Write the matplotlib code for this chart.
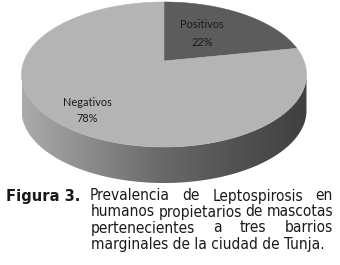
import numpy as np
import matplotlib
matplotlib.use("Agg")
import matplotlib.pyplot as plt
from matplotlib.patches import Polygon
from matplotlib.colors import LinearSegmentedColormap

# ---- data ----
labels = ["Positivos", "Negativos"]
values = [22, 78]
pct_labels = ["22%", "78%"]
caption_bold = "Figura 3."
caption_lines = ["Prevalencia de Leptospirosis en",
                 "humanos propietarios de mascotas",
                 "pertenecientes a tres barrios",
                 "marginales de la ciudad de Tunja."]

W, H = 340, 265
fig = plt.figure(figsize=(W / 100, H / 100), dpi=100)
ax = fig.add_axes([0, 0, 1, 1])
ax.set_xlim(0, W)
ax.set_ylim(H, 0)
ax.axis("off")

# perspective projection of the pie disk (pixel coordinates)
cx, a = 164.0, 140.0
ytop, yc, ybot = 2.0, 61.0, 147.0
B = yc
C = (ybot + ytop - 2 * B) / (ybot - ytop)
A = ytop * (C + 1) - B
depth = 36.0


def proj(theta, dz=0.0):
    u, v = np.cos(theta), np.sin(theta)
    x = cx + a * u / (1 + C * v)
    y = (A * v + B) / (1 + C * v) + dz
    return x, y


total = float(sum(values))
start = np.pi / 2
top_colors = ["#5c5c5c", "#b4b4b4"]
angles = []
cur = start
for val in values:
    nxt = cur - val / total * 2 * np.pi
    angles.append((cur, nxt))
    cur = nxt

# side (visible arc between silhouette points)
th_l = np.pi + np.arcsin(C)
th_r = 2 * np.pi - np.arcsin(C)
ths = np.linspace(th_l, th_r, 200)
xt, yt = proj(ths)
xb, yb = proj(ths, depth)
side_pts = np.column_stack([np.r_[xt, xb[::-1]], np.r_[yt, yb[::-1]]])
side = Polygon(side_pts, closed=True, facecolor="none", edgecolor="none")
ax.add_patch(side)
cmap = LinearSegmentedColormap.from_list(
    "side", [(0, "#ababab"), (0.25, "#8a8a8a"), (0.5, "#686868"),
             (0.8, "#4e4e4e"), (1, "#404040")])
grad = np.linspace(0, 1, 256)[None, :]
im = ax.imshow(grad, cmap=cmap, extent=(xt.min(), xt.max(), yb.max() + 1, yt.min() - 1),
               aspect="auto", zorder=1)
im.set_clip_path(side)
ax.set_xlim(0, W)
ax.set_ylim(H, 0)

# top faces
for (t0, t1), col in zip(angles, top_colors):
    th = np.linspace(t0, t1, 300)
    x, y = proj(th)
    pts = np.column_stack([np.r_[cx, x], np.r_[B, y]])
    ax.add_patch(Polygon(pts, closed=True, facecolor=col, edgecolor=col,
                         linewidth=0.4, zorder=2))

# pie labels
lab_pos = [(202, 25, 42), (87, 103, 119)]
for lab, pct, (lx, ly1, ly2) in zip(labels, pct_labels, lab_pos):
    ax.text(lx, ly1, lab, ha="center", va="center", fontsize=7.9,
            family="Lato", color="#1a1a1a", zorder=3)
    ax.text(lx, ly2, pct, ha="center", va="center", fontsize=7.9,
            family="Lato", color="#1a1a1a", zorder=3)

# caption
renderer = fig.canvas.get_renderer()
CAP_FONT = dict(family="DejaVu Sans", stretch="condensed")


def width_of(s, fs, weight="normal"):
    t = ax.text(0, 0, s, fontsize=fs, weight=weight, **CAP_FONT)
    w = t.get_window_extent(renderer).width
    t.remove()
    return w

natural = sum(width_of(caption_lines[k], 10) for k in (0, 1, 3))
fs = 10 * (238.0 + 236.0 + 223.0) / natural
bw = width_of(caption_bold, 10, "bold")
fsb = 10 * 74.0 / bw

baselines = [200.5, 216.5, 232.5, 248.5]
x_starts = [90, 91, 91, 91]
x_end = 333
ax.text(6, baselines[0], caption_bold, fontsize=fsb, weight="bold",
        color="#1a1a1a", va="baseline", ha="left", **CAP_FONT)
for i, (line, yb_, xs) in enumerate(zip(caption_lines, baselines, x_starts)):
    words = line.split(" ")
    if i < len(caption_lines) - 1 and len(words) > 1:
        full = width_of(line, fs)
        extra = (x_end - xs - full) / (len(words) - 1)
        for k, w_ in enumerate(words):
            pref = width_of(" ".join(words[:k + 1]), fs)
            xk = xs + pref - width_of(w_, fs) + k * extra
            ax.text(xk, yb_, w_, fontsize=fs, color="#1a1a1a",
                    va="baseline", ha="left", **CAP_FONT)
    else:
        ax.text(xs, yb_, line, fontsize=fs, color="#1a1a1a",
                va="baseline", ha="left", **CAP_FONT)

fig.savefig("out.png", dpi=100)
